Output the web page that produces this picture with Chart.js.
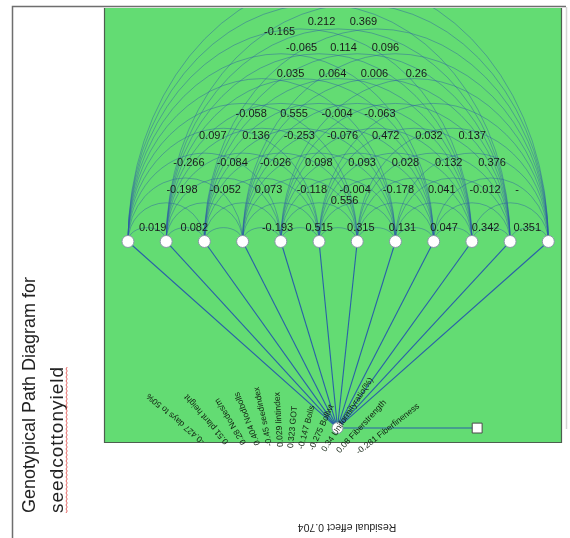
<!DOCTYPE html>
<html><head><meta charset="utf-8">
<script src="https://cdn.jsdelivr.net/npm/chart.js@4/dist/chart.umd.min.js"></script>
<style>html,body{margin:0;padding:0;background:#fff;overflow:hidden}canvas{display:block}</style>
</head><body>
<canvas id="c" width="570" height="538"></canvas>
<script>
// ---------- data ----------
const traits = ["days to 50%","plant height","Nodes/m","Nodbolls","seedindex","lintindex","GOT","Bolls","Bollwt","Uniformityratio(%)","Fiberstrength","Fiberfineness"];
const directEffects = [-0.427, 0.51, 0.28, 0.404, -0.45, 0.029, 0.323, -0.147, -0.275, 0.34, 0.08, -0.281];
const residualEffect = 0.704;
const titleLines = ["Genotypical Path Diagram for", "seedcottonyield"];
const corrRowA = [-0.165, 0.212, 0.369];
const corrRowB = [-0.065, 0.114, 0.096];
const corrRowC = [0.035, 0.064, 0.006, 0.26];
const corrRowD = [-0.058, 0.555, -0.004, -0.063];
const corrRowE = [0.097, 0.136, -0.253, -0.076, 0.472, 0.032, 0.137];
const corrRowF = [-0.266, -0.084, -0.026, 0.098, 0.093, 0.028, 0.132, 0.376];
const corrRowG = [-0.198, -0.052, 0.073, -0.118, -0.004, -0.178, 0.041, -0.012, -0.556];
const corrRowH = [0.019, 0.082, null, -0.193, 0.515, 0.315, 0.131, 0.047, 0.342, 0.351];

// ---------- layout (scale units; nodes sit at x = index, y = 0) ----------
const hubPos = {x: 5.483, y: -4.883};
const sinkPos = {x: 9.138, y: -4.883};
const rowLayout = [
  {vals: corrRowA, v: 5.744, cu: 5.065, step: 1.097, firstDropV: -0.261},
  {vals: corrRowB, v: 5.065, cu: 5.640, step: 1.097},
  {vals: corrRowC, v: 4.386, cu: 5.901, step: 1.097},
  {vals: corrRowD, v: 3.342, cu: 4.909, step: 1.123},
  {vals: corrRowE, v: 2.768, cu: 5.614, step: 1.131},
  {vals: corrRowF, v: 2.063, cu: 5.561, step: 1.133},
  {vals: corrRowG, v: 1.358, cu: 5.379, step: 1.133, wrapLast: {dashU: 10.183, u: 5.666, v: 1.070}},
  {vals: corrRowH, v: 0.366, cu: 5.548, step: 1.089}
];
const fan = {ou: 4.099, ov: -7.023, startV: -5.248, startStepV: -0.026, a0: -140, a1: -38};

const fmt = v => String(v);

const diagram = {
  id: 'diagram',
  beforeDraw(chart) {
    const {ctx, chartArea: a} = chart;
    ctx.save();
    ctx.fillStyle = '#fff';
    ctx.fillRect(0, 0, chart.width, chart.height);
    ctx.strokeStyle = '#6e6e6e'; ctx.lineWidth = 1.5;
    ctx.beginPath(); ctx.moveTo(12.5, 538); ctx.lineTo(12.5, 6.5); ctx.lineTo(566, 6.5); ctx.stroke();
    ctx.strokeStyle = '#d4d4d4'; ctx.lineWidth = 1.5;
    ctx.beginPath(); ctx.moveTo(566.5, 7); ctx.lineTo(566.5, 429); ctx.stroke();
    ctx.fillStyle = '#63dc73';
    ctx.fillRect(a.left, a.top, a.right - a.left, a.bottom - a.top);
    ctx.strokeStyle = '#4d5f4f'; ctx.lineWidth = 1.2;
    ctx.beginPath();
    ctx.moveTo(a.left + 0.5, a.top); ctx.lineTo(a.left + 0.5, a.bottom - 0.5);
    ctx.lineTo(a.right - 0.5, a.bottom - 0.5); ctx.lineTo(a.right - 0.5, a.top);
    ctx.stroke();
    ctx.restore();
  },
  beforeDatasetsDraw(chart) {
    const {ctx, chartArea: a, scales: {x, y}} = chart;
    ctx.save();
    ctx.beginPath(); ctx.rect(a.left, a.top, a.right - a.left, a.bottom - a.top); ctx.clip();
    ctx.strokeStyle = 'rgba(45,90,165,0.5)';
    ctx.lineWidth = 0.9;
    const y0 = y.getPixelForValue(0);
    const n = traits.length;
    for (let i = 0; i < n; i++) {
      for (let j = i + 1; j < n; j++) {
        const x1 = x.getPixelForValue(i), x2 = x.getPixelForValue(j);
        const rx = (x2 - x1) / 2;
        const ry = 1.3 * rx - 11;
        ctx.beginPath();
        ctx.ellipse(x1 + rx, y0, rx, ry, 0, Math.PI, 2 * Math.PI);
        ctx.stroke();
      }
    }
    ctx.restore();
  },
  afterDatasetsDraw(chart) {
    const {ctx, scales: {x, y}} = chart;
    ctx.save();
    ctx.fillStyle = '#1a1a1a';
    ctx.font = '11px "Liberation Sans", Arial, sans-serif';
    ctx.textAlign = 'center';
    ctx.textBaseline = 'middle';
    rowLayout.forEach(r => {
      const vals = r.wrapLast ? r.vals.slice(0, -1) : r.vals;
      const n = vals.length;
      vals.forEach((v, k) => {
        if (v === null) return;
        const u = r.cu + (k - (n - 1) / 2) * r.step;
        let vv = r.v;
        if (k === 0 && r.firstDropV) vv += r.firstDropV;
        ctx.fillText(fmt(v), x.getPixelForValue(u), y.getPixelForValue(vv));
      });
      if (r.wrapLast) {
        const last = fmt(r.vals[r.vals.length - 1]);
        if (last.startsWith('-')) ctx.fillText('-', x.getPixelForValue(r.wrapLast.dashU), y.getPixelForValue(r.v));
        ctx.fillText(last.replace(/^-/, ''), x.getPixelForValue(r.wrapLast.u), y.getPixelForValue(r.wrapLast.v));
      }
    });
    const ox = x.getPixelForValue(fan.ou), oy = y.getPixelForValue(fan.ov);
    ctx.font = '8.5px "Liberation Sans", Arial, sans-serif';
    ctx.fillStyle = '#112211';
    ctx.textAlign = 'left';
    const n = traits.length;
    traits.forEach((t, k) => {
      const ang = (fan.a0 + (fan.a1 - fan.a0) * k / (n - 1)) * Math.PI / 180;
      const sy = y.getPixelForValue(fan.startV + fan.startStepV * k);
      const r = (oy - sy) / (-Math.sin(ang));
      const sx = ox + r * Math.cos(ang);
      ctx.save();
      ctx.translate(sx, sy);
      ctx.rotate(ang);
      ctx.fillText(fmt(directEffects[k]) + ' ' + t, 0, 0);
      ctx.restore();
    });
    ctx.fillStyle = '#222';
    ctx.font = '18px "Liberation Sans", Arial, sans-serif';
    ctx.textBaseline = 'alphabetic';
    ctx.save(); ctx.translate(35, 513); ctx.rotate(-Math.PI / 2); ctx.fillText(titleLines[0], 0, 0); ctx.restore();
    ctx.save(); ctx.translate(63, 513); ctx.rotate(-Math.PI / 2);
    ctx.font = '19px "Liberation Sans", Arial, sans-serif';
    ctx.letterSpacing = '1px';
    ctx.fillText(titleLines[1], 0, 0);
    const tw = ctx.measureText(titleLines[1]).width;
    ctx.letterSpacing = '0px';
    ctx.strokeStyle = '#e0403c'; ctx.lineWidth = 0.8;
    ctx.beginPath();
    for (let s = 0; s <= tw; s += 2) { const yy = 3 + ((s / 2) % 2 ? 1.2 : 0); if (s === 0) ctx.moveTo(s, yy); else ctx.lineTo(s, yy); }
    ctx.stroke();
    ctx.restore();
    ctx.font = '10.5px "Liberation Sans", Arial, sans-serif';
    ctx.textAlign = 'center'; ctx.textBaseline = 'middle';
    ctx.save(); ctx.translate(347, 527); ctx.rotate(Math.PI);
    ctx.fillText('Residual effect ' + fmt(residualEffect), 0, 0);
    ctx.restore();
    ctx.restore();
  }
};

const spokeColor = '#2a60a8';
const datasets = [
  {data: traits.map((t, i) => ({x: i, y: 0})), pointRadius: 6, pointBackgroundColor: '#fff', pointBorderColor: '#8797a6', pointBorderWidth: 1, showLine: false, order: 0, clip: false},
  {data: [hubPos], pointRadius: 5.5, pointBackgroundColor: '#fff', pointBorderColor: '#8797a6', pointBorderWidth: 1, showLine: false, order: 0, clip: false},
  {data: [sinkPos], pointStyle: 'rect', pointRadius: 7, pointBackgroundColor: '#fff', pointBorderColor: '#4a4a4a', pointBorderWidth: 1, showLine: false, order: 0, clip: false},
  ...traits.map((t, i) => ({data: [{x: i, y: 0}, hubPos], showLine: true, borderColor: spokeColor, borderWidth: 1.1, pointRadius: 0, order: 2})),
  {data: [hubPos, sinkPos], showLine: true, borderColor: spokeColor, borderWidth: 1.1, pointRadius: 0, order: 2}
];

new Chart(document.getElementById('c'), {
  type: 'scatter',
  data: {datasets},
  options: {
    responsive: false, animation: false, devicePixelRatio: 1, events: [],
    layout: {padding: {left: 104, top: 7, right: 7, bottom: 95}},
    scales: {
      x: {type: 'linear', min: -0.627, max: 11.358, display: false},
      y: {type: 'linear', min: -5.274, max: 6.11, display: false}
    },
    plugins: {legend: {display: false}, tooltip: {enabled: false}}
  },
  plugins: [diagram]
});
</script>
</body></html>
